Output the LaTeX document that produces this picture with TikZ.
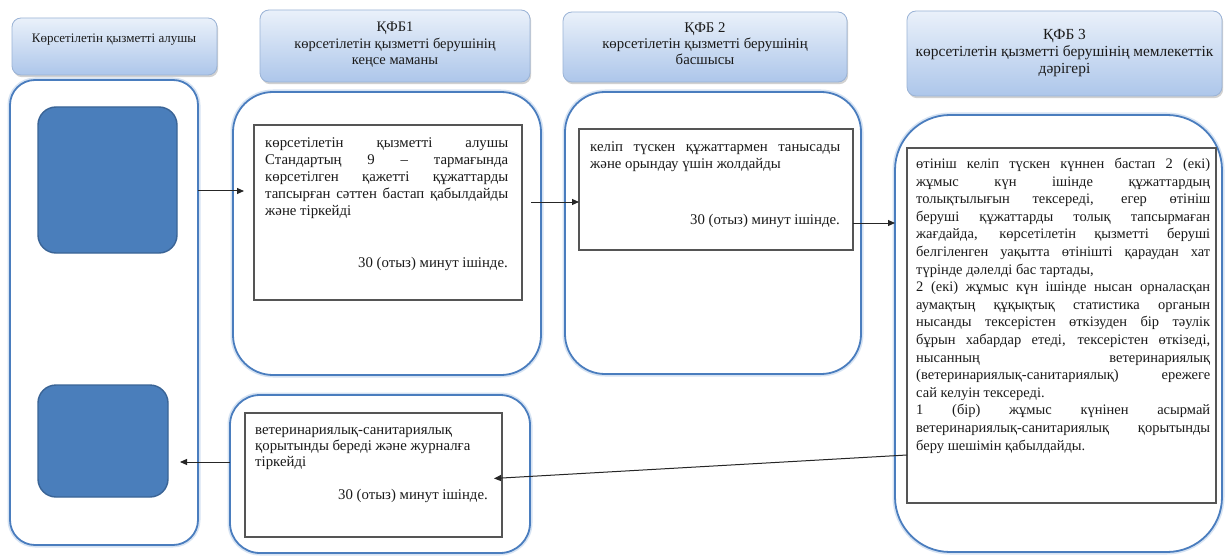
\documentclass[tikz,border=0pt]{standalone}
\usepackage{fontspec}
\setmainfont{Liberation Serif}
\usetikzlibrary{arrows.meta,shadows}
\definecolor{lanecol}{HTML}{4A7DBE}
\definecolor{laneglow}{HTML}{D6E3F3}
\definecolor{blkfill}{HTML}{4A7EBB}
\definecolor{blkborder}{HTML}{3A6496}
\definecolor{hdrtop}{HTML}{EAF1FA}
\definecolor{hdrbot}{HTML}{ADC6EA}
\definecolor{hdrborder}{HTML}{9AB3D6}
\definecolor{tboxcol}{HTML}{555555}
\definecolor{txtcol}{HTML}{1A1A1A}
\newlength\jw
\newcommand\JB[1]{\makebox[\jw][s]{#1}\\}
\tikzset{
  hdr/.style={draw=hdrborder, line width=0.8pt, rounded corners=9pt,
    top color=hdrtop, bottom color=hdrbot,
    drop shadow={shadow xshift=1.2pt, shadow yshift=-2.2pt, fill=black!40, opacity=0.45},
    anchor=north west, inner sep=0pt, outer sep=0pt},
  lane/.style={draw=lanecol, line width=1.8pt, fill=white,
    preaction={draw=laneglow, line width=5pt},
    anchor=north west, inner sep=0pt, outer sep=0pt},
  blk/.style={draw=blkborder, line width=1.4pt, fill=blkfill, rounded corners=18pt,
    anchor=north west, inner sep=0pt, outer sep=0pt},
  tbox/.style={draw=tboxcol, line width=1.2pt, fill=white,
    anchor=north west, inner sep=0pt, outer sep=0pt},
  htxt/.style={text=txtcol, align=center, inner sep=0pt, font=\fontsize{13}{16.5}\selectfont},
  btxt/.style={text=txtcol, align=left, inner sep=0pt, anchor=north west, font=\fontsize{14.8}{16.8}\selectfont},
  mtxt/.style={text=txtcol, inner sep=0pt, anchor=base east, font=\fontsize{14.8}{16.8}\selectfont},
  arr/.style={-{Triangle[length=7pt,width=6pt]}, line width=1pt, black!85},
}
\begin{document}
\begin{tikzpicture}[x=1pt,y=-1pt]
\useasboundingbox[fill=white] (0,0) rectangle (1225,556);

% lanes
\node[lane, rounded corners=25pt, minimum width=188pt, minimum height=465pt] (L0) at (10,80) {};
\node[lane, rounded corners=40pt, minimum width=308pt, minimum height=283pt] (L1a) at (233,92) {};
\node[lane, rounded corners=30pt, minimum width=300pt, minimum height=158pt] (L1b) at (230,395) {};
\node[lane, rounded corners=40pt, minimum width=296pt, minimum height=282pt] (L2) at (565,92) {};
\node[lane, rounded corners=55pt, minimum width=327pt, minimum height=437pt] (L3) at (895,115) {};

% headers
\node[hdr, minimum width=205pt, minimum height=57pt] (H0) at (12,18) {};
\node[htxt] (H0t) at (114,40) {Көрсетілетін қызметті алушы};
\node[hdr, minimum width=270pt, minimum height=72pt] (H1) at (260,10) {};
\node[htxt, font=\fontsize{14.5}{16.5}\selectfont] (H1t) at (395,45) {ҚФБ1\\көрсетілетін қызметті берушінің\\кеңсе маманы};
\node[hdr, minimum width=284pt, minimum height=70pt] (H2) at (563,12) {};
\node[htxt, font=\fontsize{14.8}{16}\selectfont] (H2t) at (705,44) {ҚФБ 2\\көрсетілетін қызметті берушінің\\басшысы};
\node[hdr, minimum width=315pt, minimum height=85pt] (H3) at (907,11) {};
\node[htxt, font=\fontsize{15.4}{16.8}\selectfont] (H3t) at (1064.5,53) {ҚФБ 3\\көрсетілетін қызметті берушінің мемлекеттік\\дәрігері};

% blue blocks
\node[blk, minimum width=139pt, minimum height=146pt] (B1) at (38,107) {};
\node[blk, minimum width=130pt, minimum height=112pt] (B2) at (38,385) {};

% text boxes
\node[tbox, minimum width=268pt, minimum height=175pt] (T1) at (254,125) {};
\setlength{\jw}{243pt}
\node[btxt] (T1t) at (265,138) {\JB{көрсетілетін қызметті алушы}\JB{Стандартың 9 – тармағында}\JB{көрсетілген қажетті құжаттарды}\JB{тапсырған сәттен бастап қабылдайды}және тіркейді};
\node[mtxt] (T1m) at (508,267) {30 (отыз) минут ішінде.};

\node[tbox, minimum width=274pt, minimum height=121pt] (T2) at (579,129) {};
\setlength{\jw}{250pt}
\node[btxt] (T2t) at (590,142) {\JB{келіп түскен құжаттармен танысады}және орындау үшін жолдайды};
\node[mtxt] (T2m) at (840,224) {30 (отыз) минут ішінде.};

\node[tbox, minimum width=309pt, minimum height=355pt] (T3) at (907,148) {};
\setlength{\jw}{294pt}
\node[btxt, font=\fontsize{14.5}{17.6}\selectfont] (T3t) at (916,158) {%
\JB{өтініш келіп түскен күннен бастап 2 (екі)}%
\JB{жұмыс күн ішінде құжаттардың}%
\JB{толықтылығын тексереді, егер өтініш}%
\JB{беруші құжаттарды толық тапсырмаған}%
\JB{жағдайда, көрсетілетін қызметті беруші}%
\JB{белгіленген уақытта өтінішті қараудан хат}%
түрінде дәлелді бас тартады,\\%
\JB{2 (екі) жұмыс күн ішінде нысан орналасқан}%
\JB{аумақтың құқықтық статистика органын}%
\JB{нысанды тексерістен өткізуден бір тәулік}%
\JB{бұрын хабардар етеді, тексерістен өткізеді,}%
\JB{нысанның ветеринариялық}%
\JB{(ветеринариялық-санитариялық) ережеге}%
сай келуін тексереді.\\%
\JB{1 (бір) жұмыс күнінен асырмай}%
\JB{ветеринариялық-санитариялық қорытынды}%
беру шешімін қабылдайды.};

\node[tbox, minimum width=257pt, minimum height=124pt] (T4) at (245,413) {};
\node[btxt, font=\fontsize{14.8}{16.2}\selectfont] (T4t) at (255,427) {ветеринариялық-санитариялық\\қорытынды береді және журналға\\тіркейді};
\node[mtxt] (T4m) at (488,499) {30 (отыз) минут ішінде.};

% connectors
\coordinate (y1) at (0,191);
\coordinate (y2) at (0,202);
\coordinate (y3) at (0,223);
\coordinate (y4a) at (0,455);
\coordinate (y4b) at (0,478);
\coordinate (y5) at (0,462);
\draw[arr, shorten >=10pt] (L0.east |- y1) -- (T1.west |- y1);
\draw[arr, shorten <=9pt] (T1.east |- y2) -- (T2.west |- y2);
\draw[arr] (T2.east |- y3) -- (L3.west |- y3);
\draw[arr, shorten >=-8pt] (T3.west |- y4a) -- (T4.east |- y4b);
\draw[arr, shorten >=12pt] (L1b.west |- y5) -- (B2.east |- y5);
\end{tikzpicture}
\end{document}
